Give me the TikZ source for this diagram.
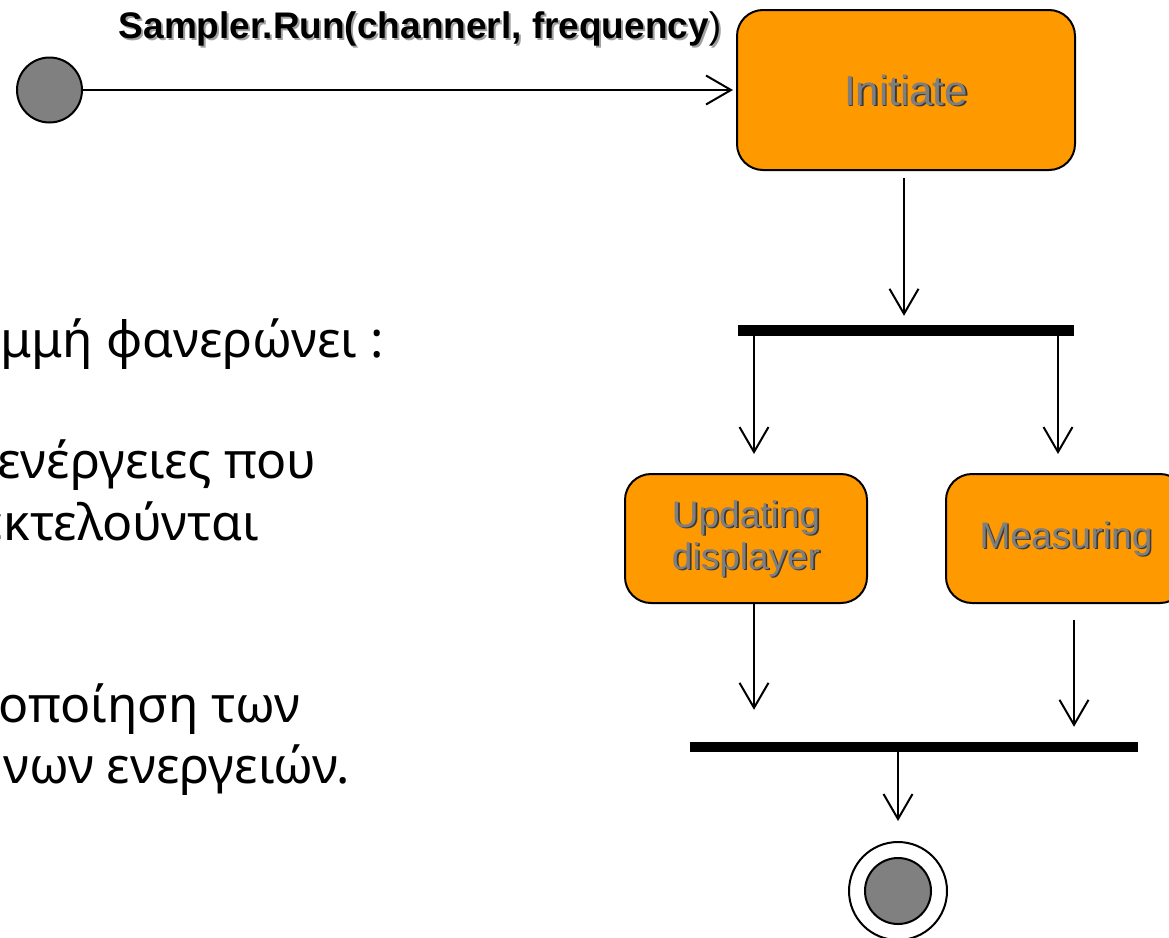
\documentclass[tikz,border=0pt]{standalone}
\usepackage{fontspec}
\setmainfont{Liberation Sans}
\newfontfamily\grfont{Noto Sans}
\usetikzlibrary{arrows.meta}
\definecolor{boxorange}{HTML}{FF9900}
\definecolor{dotgray}{HTML}{808080}
\definecolor{txtgray}{HTML}{7F7F7F}
\definecolor{txtshadow}{HTML}{3A3A3A}
\definecolor{lblshadow}{HTML}{A0A0A0}
\begin{document}
\begin{tikzpicture}[x=1pt,y=-1pt,
  conn/.style={line width=2pt,-{Straight Barb[length=25pt,width=29pt]}},
  actbox/.style={draw=black,line width=2pt,fill=boxorange,rounded corners=26pt,
    inner sep=0pt,minimum width=#1,minimum height=129pt},
  bartxt/.style={inner sep=0pt,align=center,text=txtgray,
    font=\fontsize{37}{42}\selectfont},
  bartxtshadow/.style={bartxt,text=txtshadow},
  syncbar/.style={fill=black,inner sep=0pt,minimum height=#1},
  dot/.style={circle,draw=black,line width=2pt,fill=dotgray,inner sep=0pt,minimum size=#1},
  grtxt/.style={inner sep=0pt,anchor=base east,font=\grfont\fontsize{50}{60}\selectfont},
]
\useasboundingbox (0,0) rectangle (1169,937);
\clip (0,0) rectangle (1169,937);

% Greek text (cut by the left edge)
\node[grtxt] (g1) at (384,357) {μμή φανερώνει :};
\node[grtxt] (g2) at (317,478) {ενέργειες που};
\node[grtxt] (g3) at (259,540) {εκτελούνται};
\node[grtxt] (g4) at (300,722) {οποίηση των};
\node[grtxt] (g5) at (350,783) {νων ενεργειών.};

% initial node
\node[dot=65pt] (start) at (49.5,90) {};

% label of the first transition
\node[inner sep=0pt,anchor=base,text=lblshadow,font=\fontsize{37}{42}\selectfont]
  (lblS) at (422,40) {\bfseries Sampler.Run(channerl, frequency\mdseries)};
\node[inner sep=0pt,anchor=base,font=\fontsize{37}{42}\selectfont]
  (lbl) at (420,38) {\bfseries Sampler.Run(channerl, frequency\mdseries)};

% activities
\node[actbox=338pt,minimum height=160pt] (init) at (906,90) {};
\node[bartxtshadow,font=\fontsize{42}{46}\selectfont] (initS) at ([shift={(1.6,1.6)}]init.center) {Initiate};
\node[bartxt,font=\fontsize{42}{46}\selectfont] (initT) at (init.center) {Initiate};

\node[actbox=242pt] (upd) at (746,538.5) {};
\node[bartxtshadow] (updS) at ([shift={(1.6,1.6)}]upd.center) {Updating\\displayer};
\node[bartxt] (updT) at (upd.center) {Updating\\displayer};

\node[actbox=240pt] (meas) at (1066,538.5) {};
\node[bartxtshadow] (measS) at ([shift={(1.6,1.6)}]meas.center) {Measuring};
\node[bartxt] (measT) at (meas.center) {Measuring};

% synchronisation bars
\node[syncbar=11pt,minimum width=336pt] (bar1) at (906,330.5) {};
\node[syncbar=10pt,minimum width=448pt] (bar2) at (914,747) {};

% final node
\node[circle,draw=black,line width=2pt,fill=white,inner sep=0pt,minimum size=98pt] (final) at (898,891) {};
\node[dot=66pt] (finalIn) at (final.center) {};

% connectors
\draw[conn,shorten >=3pt] (start) -- (init);
\draw[conn,shorten <=7pt,shorten >=9pt] ([xshift=-2pt]init.south) -- ([xshift=-2pt]init.south |- bar1.north);
\draw[conn,shorten >=19pt] ([xshift=8pt]upd.north |- bar1.south) -- ([xshift=8pt]upd.north);
\draw[conn,shorten >=19pt] ([xshift=-8pt]meas.north |- bar1.south) -- ([xshift=-8pt]meas.north);
\draw[conn,shorten >=32pt] ([xshift=8pt]upd.south) -- ([xshift=8pt]upd.south |- bar2.north);
\draw[conn,shorten <=16pt,shorten >=15pt] ([xshift=8pt]meas.south) -- ([xshift=8pt]meas.south |- bar2.north);
\draw[conn,shorten >=20pt] (final.north |- bar2.south) -- (final.north);
\end{tikzpicture}
\end{document}
